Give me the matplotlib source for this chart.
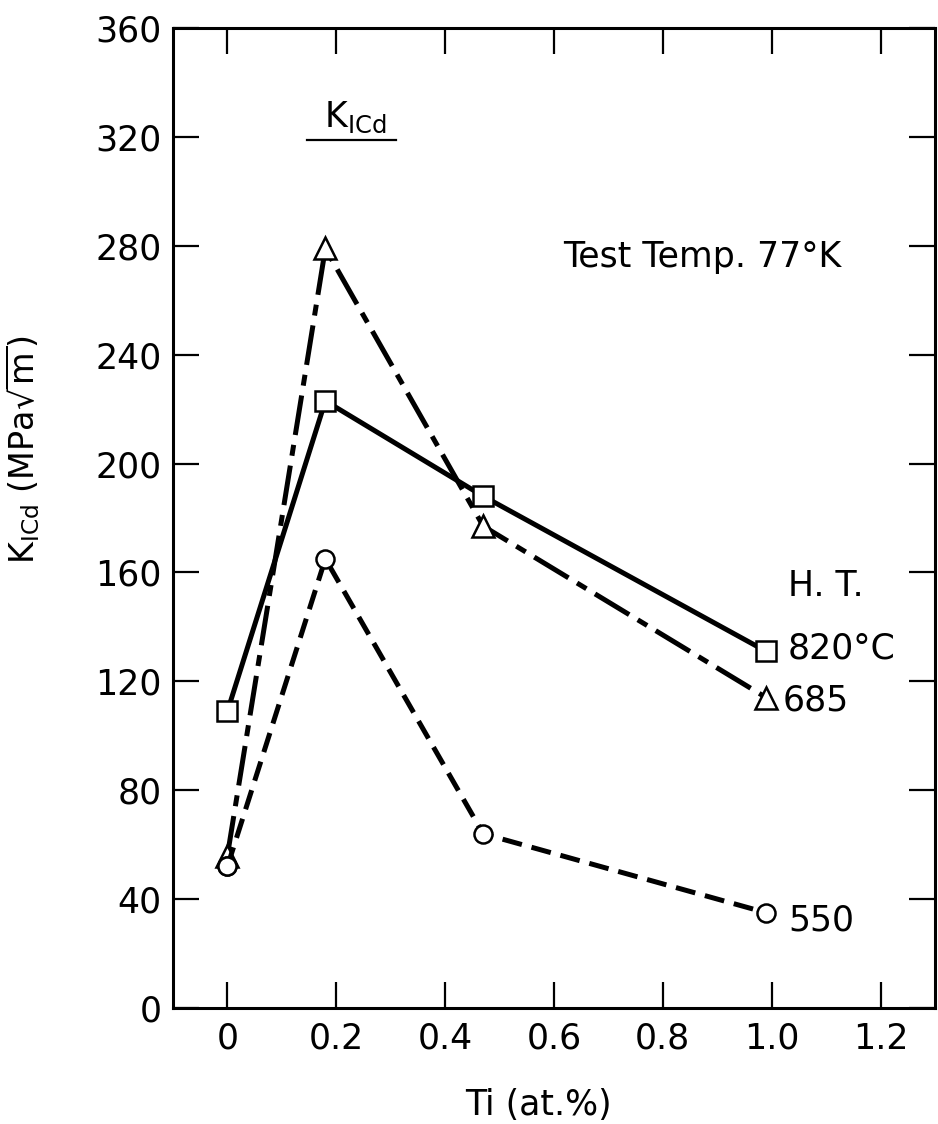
import matplotlib
matplotlib.use("Agg")
import matplotlib.pyplot as plt

# Ti content (at.%) and K_ICd values
ti = [0, 0.18, 0.47, 0.99]
k_820 = [109, 223, 188, 131]
k_685 = [56, 279, 177, 114]
k_550 = [52, 165, 64, 35]

x_ticks = [0, 0.2, 0.4, 0.6, 0.8, 1.0, 1.2]
x_ticklabels = ["0", "0.2", "0.4", "0.6", "0.8", "1.0", "1.2"]
y_ticks = list(range(0, 361, 40))

plt.rcParams['font.family'] = ['DejaVu Sans']
plt.rcParams['mathtext.fontset'] = 'dejavusans'

fig = plt.figure(figsize=(9.38, 11.24), dpi=100)
ax = fig.add_axes([0.1844, 0.1032, 0.8124, 0.8719])

mk = dict(markerfacecolor='white', markeredgecolor='black', markeredgewidth=1.8)

# 550 first so the circles sit below, then 685, then 820
ax.plot(ti, k_550, color='black', lw=3.6, dashes=(4, 2), dash_capstyle='butt',
        marker='o', markersize=13, zorder=3, **mk)
ax.plot(ti, k_685, color='black', lw=3.6, dashes=(8, 2, 2.2, 2), dash_capstyle='butt',
        marker='^', markersize=16, zorder=2, **mk)
ax.plot(ti, k_820, color='black', lw=3.6, marker='s', markersize=14, zorder=2, **mk)
# circle at Ti=0 drawn over the triangle
ax.plot(ti[:1], k_550[:1], linestyle='none', marker='o', markersize=13, zorder=4, **mk)

ax.set_xlim(-0.1, 1.3)
ax.set_ylim(0, 360)
ax.set_xticks(x_ticks)
ax.set_xticklabels(x_ticklabels)
ax.set_yticks(y_ticks)

ax.tick_params(direction='in', length=19, width=1.6, labelsize=25,
               top=True, right=True, pad=8)
ax.tick_params(axis='x', pad=10)
for s in ax.spines.values():
    s.set_linewidth(2.2)

ax.set_xlabel("Ti (at.%)", fontsize=25)
ax.xaxis.set_label_coords(0.48, -0.082)
ax.set_ylabel(r"K$_{\rm ICd}$ (MPa$\sqrt{\rm m}$)", fontsize=24)
ax.yaxis.set_label_coords(-0.172, 0.57)

# annotations
ax.text(0.235, 327, r"K$_{\rm ICd}$", fontsize=25, ha='center', va='center')
ax.plot([0.146, 0.31], [319, 319], color='black', lw=1.6)
ax.text(0.873, 276, "Test Temp. 77°K", fontsize=25, ha='center', va='center')
ax.text(1.03, 155, "H. T.", fontsize=25, ha='left', va='center')
ax.text(1.03, 132, "820°C", fontsize=25, ha='left', va='center')
ax.text(1.02, 113, "685", fontsize=25, ha='left', va='center')
ax.text(1.03, 32, "550", fontsize=25, ha='left', va='center')

fig.savefig("out.png", dpi=100)
